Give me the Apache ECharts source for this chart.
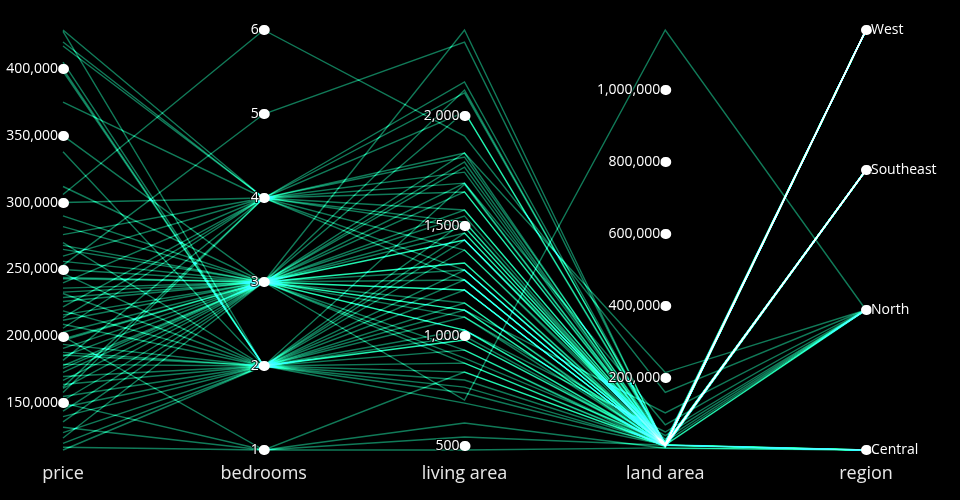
<!DOCTYPE html>
<html>
<head>
<meta charset="utf-8">
<script src="https://cdn.jsdelivr.net/npm/echarts@6/dist/echarts.min.js"></script>
<style>
html,body{margin:0;padding:0;background:#000;}
#main{width:960px;height:500px;}
</style>
</head>
<body>
<div id="main"></div>
<script>
// Axis names
const dimensions = ['price', 'bedrooms', 'living area', 'land area', 'region'];
// Tick values
const priceTicks = [150000, 200000, 250000, 300000, 350000, 400000];
const bedroomTicks = [1, 2, 3, 4, 5, 6];
const livingTicks = [500, 1000, 1500, 2000];
const landTicks = [200000, 400000, 600000, 800000, 1000000];
const regions = ['Central', 'North', 'Southeast', 'West'];

// Data columns (one entry per house)
const price = [429000, 428000, 420000, 417000, 405000, 400000, 398000, 375000, 350000, 338000,
  312000, 306000, 300000, 290000, 282000, 276000, 270000, 265000, 260000, 256000,
  253000, 250000, 247000, 243000, 240000, 236000, 232000, 229000, 226000, 222000,
  219000, 216000, 212000, 209000, 206000, 203000, 200000, 197000, 194000, 191000,
  188000, 185000, 182000, 179000, 176000, 173000, 170000, 167000, 164000, 161000,
  158000, 155000, 152000, 150000, 147000, 144000, 140000, 136000, 132000, 128000,
  124000, 120000, 117000, 115000, 268000, 244000, 214000, 198000, 186000, 178000,
  162000, 233000];
const bedrooms = [4, 2, 4, 4, 2, 2, 2, 4, 3, 2,
  3, 6, 4, 3, 3, 4, 2, 3, 4, 3,
  5, 3, 2, 3, 4, 3, 2, 3, 3, 4,
  2, 3, 3, 2, 4, 3, 1, 3, 2, 3,
  2, 3, 4, 2, 3, 3, 2, 3, 2, 3,
  4, 2, 3, 1, 2, 3, 2, 3, 1, 2,
  3, 2, 1, 2, 3, 3, 4, 3, 2, 3,
  4, 3];
const livingArea = [2155, 1690, 2018, 2105, 1468, 1391, 1520, 1832, 2391, 1300,
  1791, 1909, 1745, 1655, 1573, 1814, 1255, 1495, 1695, 1436,
  2336, 1768, 1150, 1332, 1518, 1209, 1086, 1300, 1118, 1573,
  982, 1255, 1468, 1027, 1391, 936, 836, 1150, 1209, 1027,
  877, 1332, 1300, 1118, 877, 1436, 768, 1086, 982, 1209,
  1255, 800, 709, 541, 936, 1027, 695, 900, 605, 836,
  1118, 741, 482, 1000, 2018, 2118, 1655, 1695, 1436, 1545,
  1495, 1832];
const landArea = [15000, 11000, 19000, 17000, 12000, 13500, 18000, 215000, 9000, 9000,
  12500, 160000, 14000, 10000, 15000, 21000, 14000, 12000, 70000, 14500,
  13000, 16500, 11000, 17000, 10000, 14000, 13500, 15000, 103000, 16000,
  13000, 14500, 12500, 14000, 24000, 8000, 14000, 17000, 13500, 50000,
  14000, 12000, 14500, 11000, 11000, 15000, 13000, 40000, 16000, 13500,
  14000, 14500, 1166000, 13000, 14000, 12500, 14000, 22000, 5000, 14000,
  13000, 14500, 6000, 14000, 14000, 13000, 14500, 13500, 30000, 12000,
  13000, 14000];
const region = ['West', 'Southeast', 'West', 'Southeast', 'West', 'West', 'Southeast', 'North', 'West', 'Southeast',
  'Southeast', 'North', 'West', 'West', 'Southeast', 'West', 'Southeast', 'West', 'North', 'Central',
  'West', 'Southeast', 'West', 'West', 'Southeast', 'Southeast', 'North', 'West', 'North', 'West',
  'Southeast', 'West', 'Southeast', 'Southeast', 'West', 'Southeast', 'Central', 'West', 'Southeast', 'North',
  'West', 'Southeast', 'West', 'Southeast', 'West', 'Southeast', 'Central', 'North', 'West', 'Southeast',
  'West', 'North', 'North', 'Central', 'West', 'Southeast', 'West', 'North', 'Central', 'Southeast',
  'West', 'West', 'Central', 'Southeast', 'West', 'Southeast', 'West', 'Southeast', 'North', 'West',
  'Southeast', 'West'];

const rows = price.map((p, i) => [p, bedrooms[i], livingArea[i], landArea[i], region[i]]);

const FONT = '"Open Sans", sans-serif';
const tickStyle = { show: true, length: 1, lineStyle: { color: '#fff', width: 10, cap: 'round' } };
const labelStyle = { color: '#fff', fontSize: 14, fontFamily: FONT,
  textBorderColor: 'rgba(0,0,0,0.85)', textBorderWidth: 2 };
const leftLabel = Object.assign({ align: 'right', margin: -5 }, labelStyle);
const rightLabel = Object.assign({ align: 'left', margin: 5 }, labelStyle);

function axis(dim, idx, extra) {
  return Object.assign({
    dim: idx,
    name: dim,
    nameLocation: 'start',
    nameGap: 15,
    nameTextStyle: { color: '#e8e8e8', fontSize: 18, fontFamily: FONT },
    axisLine: { show: false },
    splitLine: { show: false }
  }, extra);
}

const chart = echarts.init(document.getElementById('main'), null, { renderer: 'canvas' });
chart.setOption({
  backgroundColor: '#000',
  animation: false,
  parallel: {
    left: 63, right: 94, top: 30, bottom: 50,
    parallelAxisDefault: {}
  },
  parallelAxis: [
    axis(dimensions[0], 0, { type: 'value', min: 115000, max: 429000,
      axisTick: Object.assign({ customValues: priceTicks }, tickStyle),
      axisLabel: Object.assign({ customValues: priceTicks }, leftLabel) }),
    axis(dimensions[1], 1, { type: 'value', min: 1, max: 6,
      axisTick: Object.assign({ customValues: bedroomTicks }, tickStyle),
      axisLabel: Object.assign({ customValues: bedroomTicks }, leftLabel) }),
    axis(dimensions[2], 2, { type: 'value', min: 482, max: 2391,
      axisTick: Object.assign({ customValues: livingTicks }, tickStyle),
      axisLabel: Object.assign({ customValues: livingTicks }, leftLabel) }),
    axis(dimensions[3], 3, { type: 'value', min: 0, max: 1166000,
      axisTick: Object.assign({ customValues: landTicks }, tickStyle),
      axisLabel: Object.assign({ customValues: landTicks }, leftLabel) }),
    axis(dimensions[4], 4, { type: 'category', data: regions, boundaryGap: false,
      axisTick: Object.assign({ alignWithLabel: true }, tickStyle),
      axisLabel: rightLabel })
  ],
  series: [{
    type: 'parallel',
    blendMode: 'lighter',
    lineStyle: { color: 'rgb(22,170,122)', width: 1.4, opacity: 0.72 },
    data: rows
  }]
});
</script>
</body>
</html>
